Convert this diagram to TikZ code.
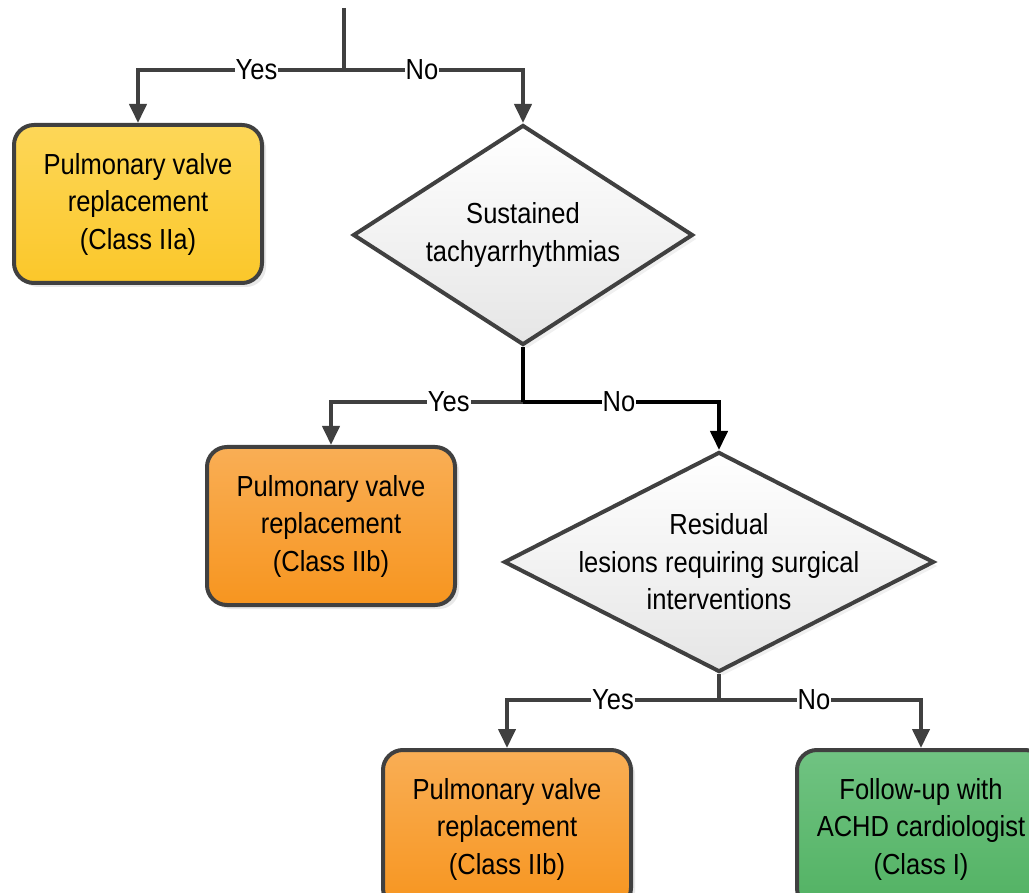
\documentclass[tikz,border=0pt]{standalone}
\usepackage{fontspec}
\setmainfont[FakeStretch=0.88]{Liberation Sans}
\usetikzlibrary{shapes.geometric,arrows.meta,shadows}
\definecolor{linegray}{HTML}{404040}
\definecolor{yelT}{HTML}{FDD758}
\definecolor{yelB}{HTML}{FBC72A}
\definecolor{orT}{HTML}{F9AE55}
\definecolor{orB}{HTML}{F7951F}
\definecolor{grT}{HTML}{70C382}
\definecolor{grB}{HTML}{52B263}
\tikzset{
  txt/.style={font=\fontsize{29}{37.5}\selectfont, align=center},
  box/.style={txt, draw=linegray, line width=4pt, rounded corners=20pt,
    minimum width=248pt, minimum height=158pt, inner sep=0pt,
    drop shadow={opacity=0.18, shadow xshift=4pt, shadow yshift=-4pt}},
  dia/.style={shape=diamond, draw=linegray, line width=4pt, inner sep=0pt,
    top color=white, bottom color=black!10,
    drop shadow={opacity=0.12, shadow xshift=4pt, shadow yshift=-4pt}},
  conn/.style={draw=linegray, line width=4pt},
  arr/.style={conn, -{Triangle[length=19pt,width=17pt]}},
  lab/.style={font=\fontsize{29}{34}\selectfont, fill=white, inner sep=1pt}
}
\begin{document}
\begin{tikzpicture}[x=1pt,y=-1pt]
\useasboundingbox (0,0) rectangle (1029,893);
% nodes
\node[box, top color=yelT, bottom color=yelB] (b1) at (138,204) {Pulmonary valve\\replacement\\(Class IIa)};
\node[dia, minimum width=340pt, minimum height=220pt] (d1) at (523,235) {};
\node[txt] (t1) at (d1.center) {Sustained\\tachyarrhythmias};
\node[box, top color=orT, bottom color=orB] (b2) at (331,526) {Pulmonary valve\\replacement\\(Class IIb)};
\node[dia, minimum width=430pt, minimum height=220pt] (d2) at (719,562) {};
\node[txt] (t2) at (d2.center) {Residual\\lesions requiring surgical\\interventions};
\node[box, top color=orT, bottom color=orB] (b3) at (507,829) {Pulmonary valve\\replacement\\(Class IIb)};
\node[box, top color=grT, bottom color=grB] (b4) at (921,829) {Follow-up with\\ACHD cardiologist\\(Class I)};
% coordinates
\coordinate (top) at (344,8);
\coordinate (j1) at (344,70);
\coordinate (j2) at (d1.south |- 0,402);
\coordinate (j3) at (d2.south |- 0,700);
% connectors level 1
\draw[conn] (top) -- (j1);
\draw[arr] (j1) -- node[lab,pos=0.425]{Yes} (j1 -| b1.north) -- (b1.north);
\draw[arr] (j1) -- node[lab,pos=0.436]{No} (j1 -| d1.north) -- (d1.north);
% level 2
\draw[arr] (j2) -- node[lab,pos=0.387]{Yes} (j2 -| b2.north) -- (b2.north);
\draw[arr, draw=black] (j2) -- node[lab,pos=0.49]{No} (j2 -| d2.north) -- (d2.north);
\draw[conn, draw=black] (d1.south) -- (j2);
% level 3
\draw[conn] (d2.south) -- (j3);
\draw[arr] (j3) -- node[lab,pos=0.50]{Yes} (j3 -| b3.north) -- (b3.north);
\draw[arr] (j3) -- node[lab,pos=0.47]{No} (j3 -| b4.north) -- (b4.north);
\end{tikzpicture}
\end{document}
